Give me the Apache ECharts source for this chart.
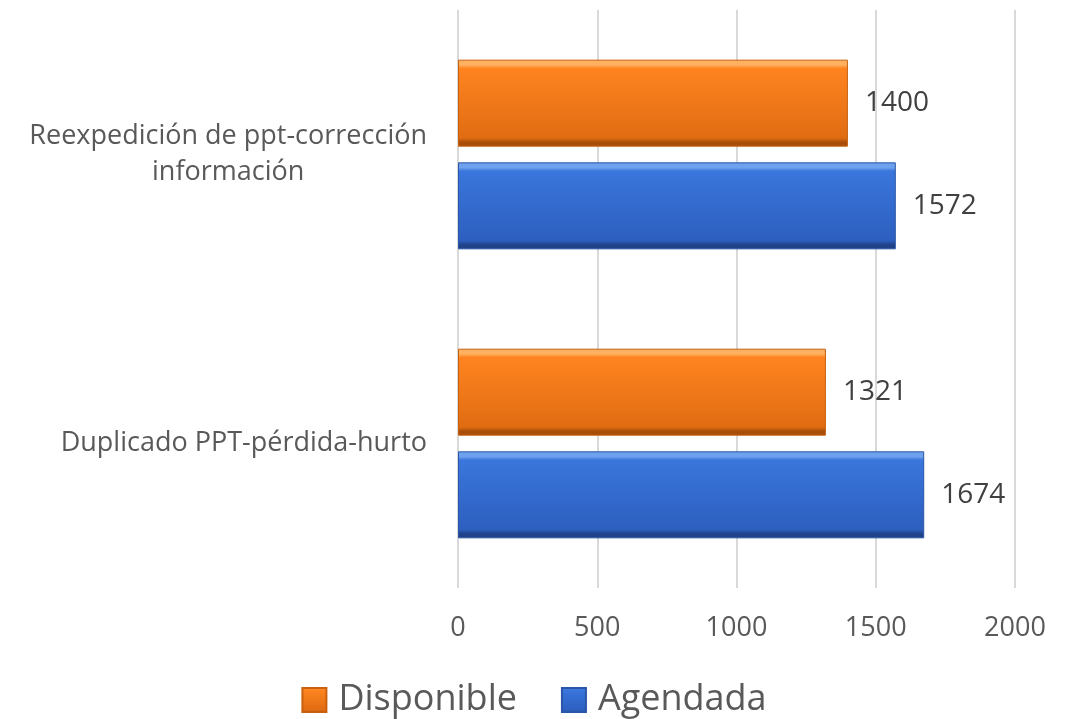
<!DOCTYPE html>
<html>
<head>
<meta charset="utf-8">
<script src="https://cdn.jsdelivr.net/npm/echarts@6/dist/echarts.min.js"></script>
<style>
  html, body { margin: 0; padding: 0; background: #fff; }
  #chart { width: 1068px; height: 719px; }
</style>
</head>
<body>
<div id="chart"></div>
<script>
// categories from top to bottom
const categories = ['Reexpedición de ppt-corrección\ninformación', 'Duplicado PPT-pérdida-hurto'];
const disponible = [1400, 1321];
const agendada = [1572, 1674];
const xTicks = [0, 500, 1000, 1500, 2000];

function bevel(light, main, dark, edge) {
  return new echarts.graphic.LinearGradient(0, 0, 0, 1, [
    { offset: 0, color: light },
    { offset: 0.06, color: light },
    { offset: 0.1, color: main },
    { offset: 0.9, color: dark },
    { offset: 0.95, color: edge },
    { offset: 1, color: edge }
  ]);
}

const chart = echarts.init(document.getElementById('chart'));
const option = {
  animation: false,
  textStyle: { fontFamily: 'Open Sans', color: '#595959' },
  grid: { left: 458, right: 53, top: 10, bottom: 131 },
  legend: {
    bottom: -4,
    left: 'center',
    data: ['Disponible', 'Agendada'],
    icon: 'rect',
    itemWidth: 24,
    itemHeight: 24,
    itemGap: 44,
    textStyle: { fontSize: 36, color: '#595959', fontFamily: 'Open Sans', padding: [0, 0, 0, 7] }
  },
  xAxis: {
    type: 'value',
    min: xTicks[0],
    max: xTicks[xTicks.length - 1],
    interval: 500,
    axisLine: { show: false },
    axisTick: { show: false },
    axisLabel: { fontSize: 27, color: '#595959', margin: 27, formatter: function (v) { return String(v); } },
    splitLine: { lineStyle: { color: '#d9d9d9', width: 2 } }
  },
  yAxis: {
    type: 'category',
    inverse: true,
    data: categories,
    axisLine: { show: false },
    axisTick: { show: false },
    axisLabel: {
      margin: 31,
      formatter: function (v) {
        return v.split('\n').map(function (s) { return '{a|' + s + '}'; }).join('\n');
      },
      rich: {
        a: { fontSize: 27, color: '#595959', align: 'center', lineHeight: 36, fontFamily: 'Open Sans' }
      }
    }
  },
  series: [
    {
      name: 'Disponible',
      type: 'bar',
      data: disponible,
      barWidth: 87,
      barGap: '18%',
      itemStyle: {
        color: bevel('#ffb060', '#ff8420', '#e06c12', '#a84e08'),
        borderColor: '#c8600e',
        borderWidth: 1
      },
      label: { show: true, position: 'right', distance: 17, fontSize: 28, color: '#404040' }
    },
    {
      name: 'Agendada',
      type: 'bar',
      data: agendada,
      barWidth: 87,
      itemStyle: {
        color: bevel('#6fa2ee', '#3a76dc', '#2d5fbf', '#1f4288'),
        borderColor: '#2a55a8',
        borderWidth: 1
      },
      label: { show: true, position: 'right', distance: 17, fontSize: 28, color: '#404040' }
    }
  ]
};
chart.setOption(option);
</script>
</body>
</html>
